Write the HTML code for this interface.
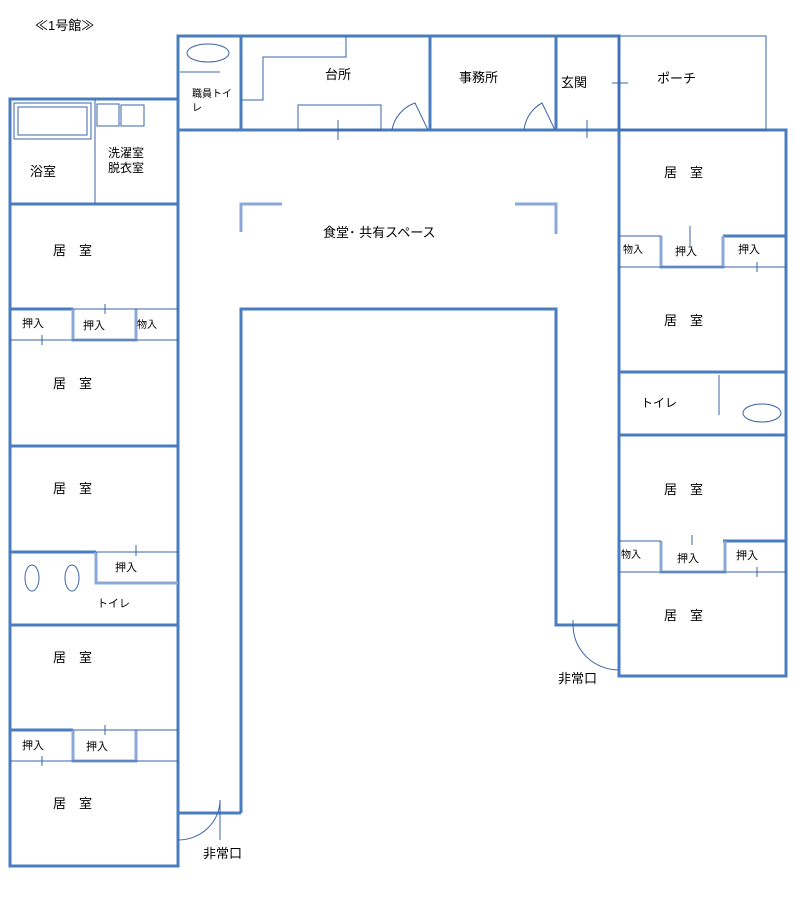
<!DOCTYPE html>
<html><head><meta charset="utf-8"><style>
body{margin:0;background:#fff}
svg{display:block}
text{font-family:"Liberation Sans","Noto Sans CJK JP",sans-serif;fill:#000}
</style></head><body>
<svg width="800" height="900" viewBox="0 0 800 900" xmlns="http://www.w3.org/2000/svg">
<g fill="none" stroke="#4a7cc0" stroke-width="3">
<rect x="10" y="99" width="168" height="767"/>
<line x1="10" y1="204" x2="178" y2="204"/>
<line x1="10" y1="446" x2="178" y2="446"/>
<line x1="10" y1="625" x2="178" y2="625"/>
<rect x="178" y="36" width="441" height="94"/>
<line x1="241" y1="36" x2="241" y2="130"/>
<line x1="430" y1="36" x2="430" y2="130"/>
<line x1="556" y1="36" x2="556" y2="130"/>
<polyline points="241,813 241,309 556,309 556,625 619,625"/>
<line x1="178" y1="813" x2="241" y2="813"/>
<rect x="619" y="130" width="167" height="546"/>
<line x1="619" y1="372" x2="786" y2="372"/>
<line x1="619" y1="435" x2="786" y2="435"/>
<line x1="723" y1="236" x2="786" y2="236"/>
<line x1="723" y1="541" x2="786" y2="541"/>
<line x1="10" y1="309" x2="73" y2="309"/>
<line x1="10" y1="730" x2="73" y2="730"/>
<line x1="10" y1="552" x2="96" y2="552"/>
</g>
<g fill="none" stroke="#8aa8d8" stroke-width="3">
<polyline points="73,309 73,340 136,340 136,309"/>
<polyline points="73,730 73,761 136,761 136,730"/>
<polyline points="96,552 96,583 178,583"/>
<polyline points="661,236 661,267 723,267 723,236"/>
<polyline points="661,541 661,572 725,572 725,541"/>
<polyline points="241,232 241,204 282,204"/>
<polyline points="515,204 556,204 556,234"/>
</g>
<g fill="none" stroke="#3a64a8" stroke-width="1">
<line x1="95" y1="99" x2="95" y2="204"/>
<rect x="14" y="103" width="77" height="36"/>
<rect x="18" y="107" width="69" height="28"/>
<rect x="97" y="104" width="22" height="22"/>
<rect x="121" y="105" width="23" height="21"/>
<line x1="73" y1="309" x2="178" y2="309"/>
<line x1="10" y1="340" x2="178" y2="340"/>
<line x1="105" y1="304" x2="105" y2="314"/>
<line x1="42" y1="335" x2="42" y2="345"/>
<line x1="73" y1="730" x2="178" y2="730"/>
<line x1="10" y1="761" x2="178" y2="761"/>
<line x1="105" y1="725" x2="105" y2="735"/>
<line x1="42" y1="756" x2="42" y2="766"/>
<line x1="96" y1="552" x2="178" y2="552"/>
<line x1="136" y1="545" x2="136" y2="556"/>
<ellipse cx="32" cy="578" rx="7" ry="13"/>
<ellipse cx="72" cy="578" rx="7" ry="13"/>
<ellipse cx="208" cy="53" rx="21" ry="9"/>
<line x1="180" y1="72" x2="220" y2="72"/>
<polyline points="346,36 346,57 263,57 263,100 241,100"/>
<rect x="298" y="105" width="83" height="25"/>
<line x1="338" y1="120" x2="338" y2="140"/>
<line x1="587" y1="120" x2="587" y2="138"/>
<path d="M392,130 A35,35 0 0 1 415,103 L428,130"/>
<path d="M524,130 A35,35 0 0 1 542,103 L555,130"/>
<rect x="619" y="36" width="147" height="94"/>
<line x1="612" y1="83" x2="628" y2="83"/>
<line x1="619" y1="267" x2="786" y2="267"/>
<line x1="619" y1="236" x2="661" y2="236"/>
<line x1="690" y1="226" x2="690" y2="246"/>
<line x1="757" y1="262" x2="757" y2="272"/>
<line x1="619" y1="572" x2="786" y2="572"/>
<line x1="619" y1="541" x2="661" y2="541"/>
<line x1="692" y1="535" x2="692" y2="545"/>
<line x1="757" y1="567" x2="757" y2="577"/>
<line x1="719" y1="375" x2="719" y2="415"/>
<ellipse cx="762" cy="413" rx="19" ry="9"/>
<path d="M220,800 L220,840"/>
<path d="M178,840 A42,40 0 0 0 220,800"/>
<path d="M573,625 L573,620"/>
<path d="M573,625 A46,45 0 0 0 619,670"/>
</g>
<g font-size="13">
<text x="35" y="30">≪1号館≫</text>
<text x="30" y="176">浴室</text>
<text x="108" y="157" font-size="12">洗濯室</text>
<text x="108" y="172" font-size="12">脱衣室</text>
<text x="53" y="255">居　室</text>
<text x="53" y="388">居　室</text>
<text x="53" y="493">居　室</text>
<text x="53" y="662">居　室</text>
<text x="53" y="808">居　室</text>
<text x="22" y="327" font-size="11">押入</text>
<text x="83" y="329" font-size="11">押入</text>
<text x="137" y="328" font-size="10">物入</text>
<text x="115" y="571" font-size="11">押入</text>
<text x="97" y="607" font-size="11">トイレ</text>
<text x="22" y="749" font-size="11">押入</text>
<text x="86" y="750" font-size="11">押入</text>
<text x="192" y="97" font-size="10">職員トイ</text>
<text x="192" y="111" font-size="10">レ</text>
<text x="325" y="79">台所</text>
<text x="459" y="82">事務所</text>
<text x="561" y="87">玄関</text>
<text x="657" y="83">ポーチ</text>
<text x="323" y="237">食堂･ 共有スペース</text>
<text x="664" y="177">居　室</text>
<text x="664" y="325">居　室</text>
<text x="664" y="494">居　室</text>
<text x="664" y="620">居　室</text>
<text x="623" y="253" font-size="10">物入</text>
<text x="675" y="255" font-size="11">押入</text>
<text x="738" y="253" font-size="11">押入</text>
<text x="621" y="558" font-size="10">物入</text>
<text x="677" y="562" font-size="11">押入</text>
<text x="736" y="559" font-size="11">押入</text>
<text x="641" y="407" font-size="12">トイレ</text>
<text x="203" y="858">非常口</text>
<text x="558" y="683">非常口</text>
</g>
</svg>
</body></html>
